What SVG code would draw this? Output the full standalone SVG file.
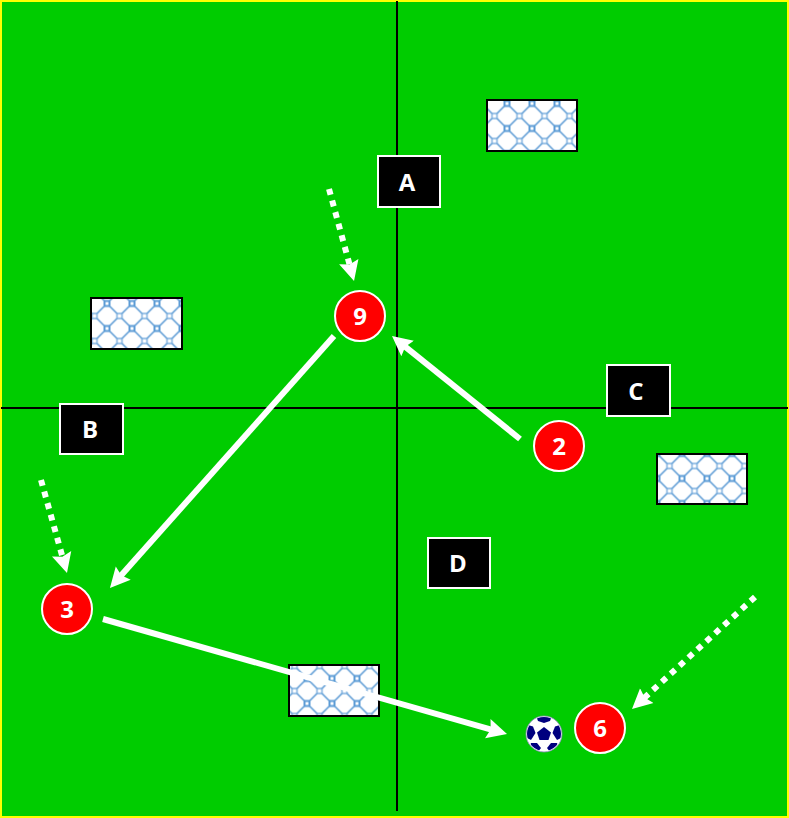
<svg xmlns="http://www.w3.org/2000/svg" width="789" height="818" viewBox="0 0 789 818">
<style>
.axis{stroke:#000;stroke-width:2;fill:none}
.solid{stroke:#fff;stroke-width:6;fill:none;marker-end:url(#head)}
.dash{stroke:#fff;stroke-width:6;stroke-dasharray:6 6;fill:none;marker-end:url(#head)}
.mat{fill:url(#net);stroke:#000;stroke-width:2}
.tag{fill:#000;stroke:#fff;stroke-width:2}
.disc{fill:#f00;stroke:#fff;stroke-width:2}
text{font-family:"Open Sans","Noto Sans",sans-serif;font-weight:700;font-size:24px;fill:#fff;text-anchor:middle}
</style>
<defs>
<marker id="head" markerUnits="userSpaceOnUse" markerWidth="24" markerHeight="24" refX="10" refY="11" orient="auto"><path d="M0,1L20,11L0,21L3,11z" fill="#fff"/></marker>
<pattern id="net" patternUnits="userSpaceOnUse" x="494.500" y="103.500" width="25" height="25">
<rect width="25" height="25" fill="#fff"/>
<path d="M15,2.500L22.500,10M22.500,15L15,22.500M10,22.500L2.500,15M2.500,10L10,2.500" fill="none" stroke="#5b9bd5" stroke-width="1.600"/>
<path d="M10,-2.500H15V2.500H10zM10,22.500H15V27.500H10z" fill="none" stroke="#5b9bd5" stroke-width="2"/>
<path d="M-2.500,10H2.500V15H-2.500zM22.500,10H27.500V15H22.500z" fill="none" stroke="#5b9bd5" stroke-width="1.500" stroke-opacity=".8"/>
</pattern>
<clipPath id="ballclip"><circle cx="544" cy="734" r="17"/></clipPath>
</defs>
<rect id="pitch" x="1" y="1" width="787" height="816" fill="#0c0" stroke="#ff0" stroke-width="2"/>
<g id="axes">
<line class="axis" x1="397" y1="1" x2="397" y2="811"/>
<line class="axis" x1="1" y1="408" x2="788" y2="408"/>
</g>
<g id="mat1"><rect class="mat" x="487" y="100" width="90" height="51"/></g>
<g id="mat2"><rect class="mat" x="91" y="298" width="91" height="51"/></g>
<g id="mat3"><rect class="mat" x="657" y="454" width="90" height="50"/></g>
<g id="mat4"><rect class="mat" x="289" y="665" width="90" height="51"/></g>
<g id="connectors">
<line class="solid" x1="334" y1="336" x2="116.600" y2="580.500"/>
<line class="solid" x1="520" y1="439" x2="399.800" y2="342.300"/>
<line class="solid" x1="103" y1="619" x2="497.400" y2="731.300"/>
<line class="dash" x1="329" y1="189" x2="351.400" y2="271.300"/>
<line class="dash" x1="41" y1="480" x2="64.300" y2="563.400"/>
<line class="dash" x1="755" y1="597" x2="639.400" y2="702.300"/>
</g>
<g id="tagA"><rect class="tag" x="378" y="156" width="62" height="51"/><text x="407" y="191">A</text></g>
<g id="tagB"><rect class="tag" x="60" y="404" width="63" height="50"/><text x="90" y="438">B</text></g>
<g id="tagC"><rect class="tag" x="607" y="365" width="63" height="51"/><text x="636" y="400">C</text></g>
<g id="tagD"><rect class="tag" x="428" y="538" width="62" height="50"/><text x="458" y="572">D</text></g>
<g id="player9"><circle class="disc" cx="360" cy="316" r="25"/><text x="360" y="325">9</text></g>
<g id="player2"><circle class="disc" cx="559" cy="446" r="25"/><text x="559" y="455">2</text></g>
<g id="player3"><circle class="disc" cx="67" cy="609" r="25"/><text x="67" y="618">3</text></g>
<g id="player6"><circle class="disc" cx="600" cy="728" r="25"/><text x="600" y="737">6</text></g>
<g id="ball">
<circle cx="544" cy="734" r="18" fill="#fff" stroke="#8888bb" stroke-width="0.800"/>
<g clip-path="url(#ballclip)" fill="#00007f">
<polygon points="544,727 551,732.500 548.500,740 539.500,740 537,732.500"/>
<polygon points="536,716 552,716 550,721 544,723 538,721"/>
<polygon points="560,725 563,737 557,740 552.500,733 555,726.500"/>
<polygon points="528,725 525,737 531,740 535.500,733 533,726.500"/>
<polygon points="531,743 537,743 541,748 538,752 528,750"/>
<polygon points="557,743 551,743 547,748 550,752 560,750"/>
</g>
</g>
</svg>
